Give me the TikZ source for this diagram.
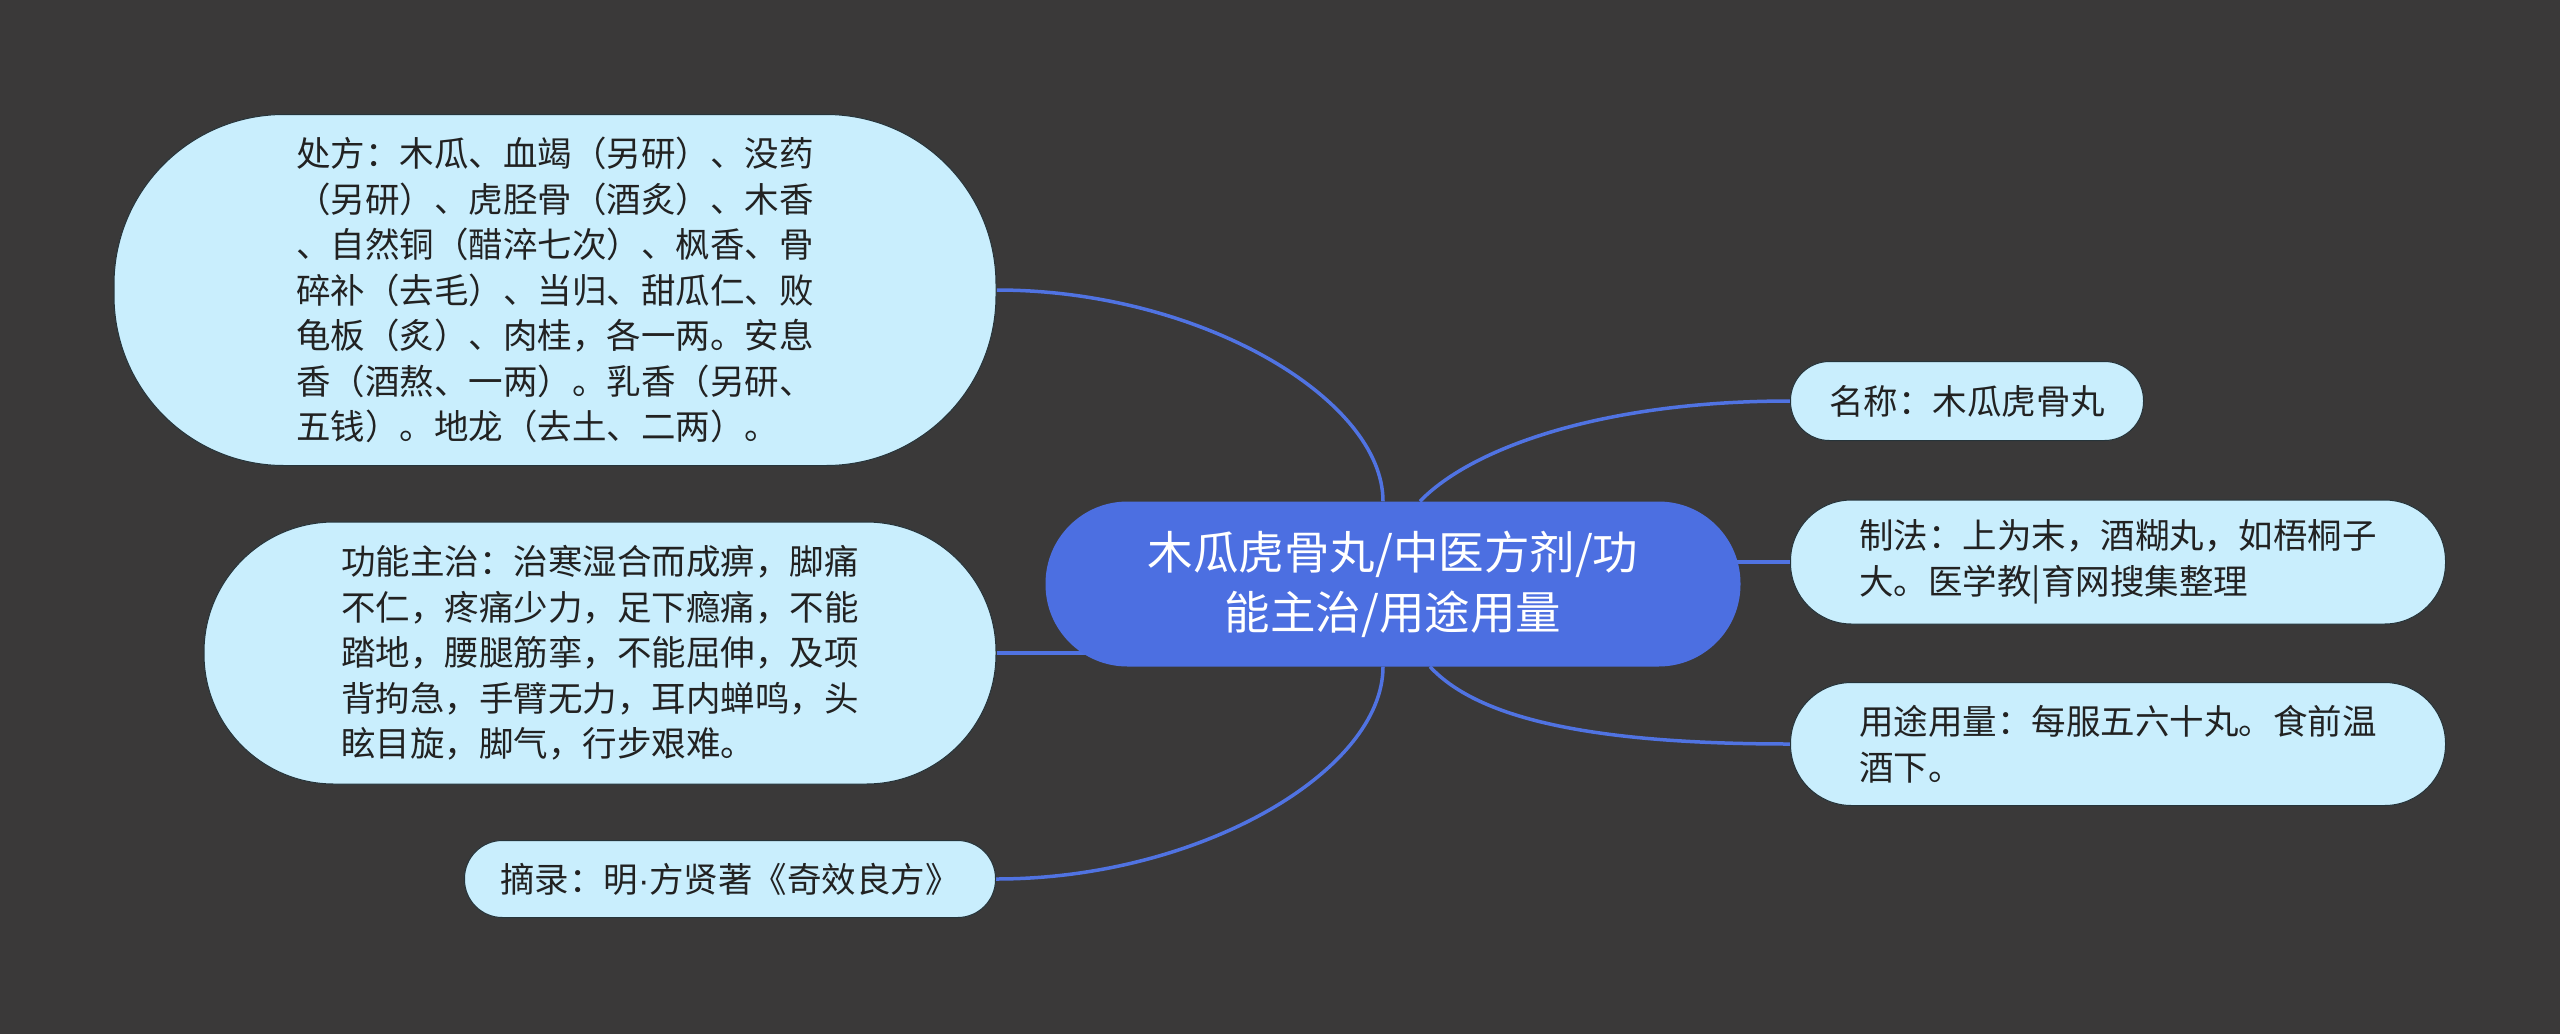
\documentclass[tikz,border=0pt]{standalone}
\usepackage{fontspec}
\newfontfamily\cjk{Noto Sans CJK SC}
\newfontfamily\latinfont{Liberation Sans}
\pgfdeclarelayer{bg}
\pgfdeclarelayer{edges}
\pgfsetlayers{bg,edges,main}
\definecolor{bgc}{HTML}{3A3939}
\definecolor{mainblue}{HTML}{4C6FE1}
\definecolor{edgeblue}{HTML}{5073E2}
\definecolor{leaffill}{HTML}{C9EEFD}
\definecolor{leafline}{HTML}{26343A}
\definecolor{leaftext}{HTML}{222222}
\tikzset{
  centerbox/.style={rectangle, fill=mainblue, text=white, align=center, inner sep=0pt,
    font=\cjk\fontsize{45.5}{60}\selectfont},
  leaf/.style={rectangle, fill=leaffill, draw=leafline, line width=1pt, text=leaftext,
    align=left, inner sep=0pt, font=\cjk\fontsize{34.5}{45.5}\selectfont},
  edge/.style={draw=edgeblue, line width=3.5pt}
}
\begin{document}
\begin{tikzpicture}[x=1pt,y=-1pt]
\begin{pgfonlayer}{bg}
\fill[bgc] (0,0) rectangle (2560,1034);
\end{pgfonlayer}
\useasboundingbox (0,0) rectangle (2560,1034);

\node[centerbox, minimum width=695pt, minimum height=165pt, rounded corners=82pt] (c) at (1393,584)
  {木瓜虎骨丸/中医方剂/功\\能主治/用途用量};

\node[leaf, minimum width=882pt, minimum height=351pt, rounded corners=170pt] (n1) at (555,290)
  {处方：木瓜、血竭（另研）、没药\\（另研）、虎胫骨（酒炙）、木香\\、自然铜（醋淬七次）、枫香、骨\\碎补（去毛）、当归、甜瓜仁、败\\龟板（炙）、肉桂，各一两。安息\\香（酒熬、一两）。乳香（另研、\\五钱）。地龙（去土、二两）。};

\node[leaf, minimum width=792pt, minimum height=262pt, rounded corners=130pt] (n2) at (600,653)
  {功能主治：治寒湿合而成痹，脚痛\\不仁，疼痛少力，足下瘾痛，不能\\踏地，腰腿筋挛，不能屈伸，及项\\背拘急，手臂无力，耳内蝉鸣，头\\眩目旋，脚气，行步艰难。};

\node[leaf, minimum width=531pt, minimum height=77pt, rounded corners=38pt] (n3) at (730,879)
  {摘录：明{\latinfont ·}方贤著《奇效良方》};

\node[leaf, minimum width=353pt, minimum height=79pt, rounded corners=39pt] (r1) at (1967,401)
  {名称：木瓜虎骨丸};

\node[leaf, minimum width=655pt, minimum height=124pt, rounded corners=61pt] (r2) at (2118,562)
  {制法：上为末，酒糊丸，如梧桐子\\大。医学教|育网搜集整理};

\node[leaf, minimum width=655pt, minimum height=123pt, rounded corners=61pt] (r3) at (2118,744)
  {用途用量：每服五六十丸。食前温\\酒下。};

\begin{pgfonlayer}{edges}
\draw[edge] ([xshift=-10pt]c.north) .. controls +(0,-102) and +(204,0) .. (n1.east);
\draw[edge] (n2.east) -- (n2.east -| c.center);
\draw[edge] ([xshift=-10pt]c.south) .. controls +(0,104) and +(204,0) .. (n3.east);
\draw[edge] ([xshift=27pt]c.north) .. controls +(50,-52) and +(-191,0) .. (r1.west);
\draw[edge] (r2.west -| c.center) -- (r2.west);
\draw[edge] ([xshift=37pt]c.south) .. controls +(50,54) and +(-191,0) .. (r3.west);
\end{pgfonlayer}
\end{tikzpicture}
\end{document}
